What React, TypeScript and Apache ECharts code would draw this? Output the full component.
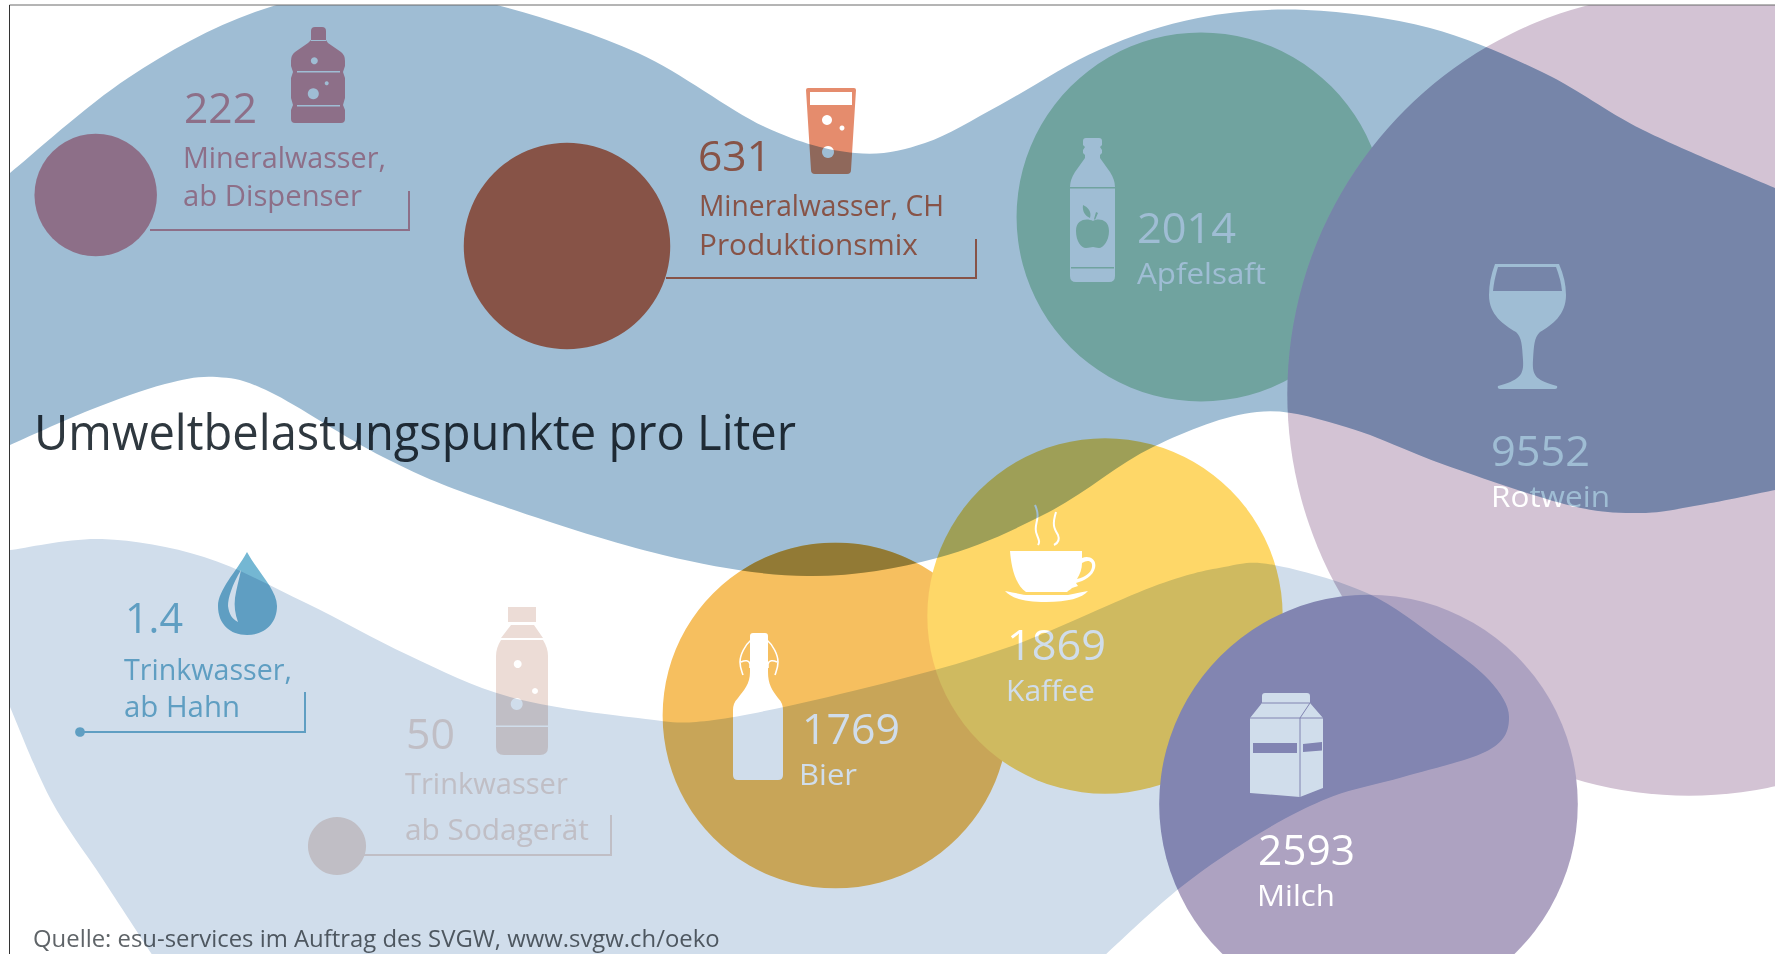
import React, { useEffect, useRef } from "react";
import * as echarts from "echarts";

// ---------- data ----------
const names = ["Apfelsaft", "Rotwein", "Bier", "Kaffee", "Milch", "Mineralwasser, ab Dispenser", "Mineralwasser, CH Produktionsmix", "Trinkwasser ab Sodagerät", "Trinkwasser, ab Hahn"];
const values = [2014, 9552, 1769, 1869, 2593, 222, 631, 50, 1.4];
const centerX = [1201, 1689, 835.5, 1105, 1368.5, 95.7, 567, 337, 80];
const centerY = [217, 394, 715.5, 616, 804, 195, 246, 846, 732];
const bubbleColors = ["#b4dcc0", "#d3c3d4", "#f6bf5f", "#fed768", "#ada2c1", "#e396a4", "#d97055", "#ecdcd6", "#74b7d3"];
const AREA_SCALE = 4.11;

const TITLE = "Umweltbelastungspunkte pro Liter";
const SOURCE = "Quelle: esu-services im Auftrag des SVGW, www.svgw.ch/oeko";

// ---------- background shapes ----------
const blueUpper = [[10,173],[128,78],[255,12],[390,-14],[497,5],[638,53],[765,127],[855,153],[925,143],[1000,105],[1099,50],[1198,18],[1306,10],[1430,28],[1544,73],[1643,130],[1775,188]];
const blueLower = [[1775,490],[1700,505],[1640,513],[1568,505],[1445,465],[1346,427],[1257,412],[1153,447],[1049,512],[937,558],[808,576],[663,555],[485,500],[383,457],[270,392],[217,377],[165,384],[90,410],[10,445]];
const lightUpper = [[10,550],[102,539],[204,557],[306,603],[408,655],[510,697],[638,718],[714,720],[865,688],[1009,647],[1152,587],[1224,567],[1274,565],[1367,593],[1439,640],[1489,680],[1509,717],[1489,750],[1403,777],[1331,797],[1260,833],[1181,887],[1104,956]];
const lightLeft = [[153,956],[102,878],[51,800],[10,707]];

function controls(pts: number[][], i: number) {
  const p0 = pts[Math.max(0, i - 1)], p1 = pts[i], p2 = pts[i + 1], p3 = pts[Math.min(pts.length - 1, i + 2)];
  return [p1, [p1[0] + (p2[0] - p0[0]) / 6, p1[1] + (p2[1] - p0[1]) / 6], [p2[0] - (p3[0] - p1[0]) / 6, p2[1] - (p3[1] - p1[1]) / 6], p2];
}
function smooth(pts: number[][], move: boolean) {
  let d = (move ? "M" : "L") + pts[0][0] + " " + pts[0][1];
  for (let i = 0; i < pts.length - 1; i++) {
    const [, c1, c2, p2] = controls(pts, i);
    d += `C${c1[0].toFixed(1)} ${c1[1].toFixed(1)} ${c2[0].toFixed(1)} ${c2[1].toFixed(1)} ${p2[0]} ${p2[1]}`;
  }
  return d;
}
function sample(pts: number[][]) {
  const out: number[][] = [];
  for (let i = 0; i < pts.length - 1; i++) {
    const [a, b, c, e] = controls(pts, i);
    for (let k = 0; k < 24; k++) {
      const t = k / 24, u = 1 - t;
      out.push([
        u*u*u*a[0] + 3*u*u*t*b[0] + 3*u*t*t*c[0] + t*t*t*e[0],
        u*u*u*a[1] + 3*u*u*t*b[1] + 3*u*t*t*c[1] + t*t*t*e[1],
      ]);
    }
  }
  out.push(pts[pts.length - 1]);
  return out;
}
// part of a background shape that lies inside a bubble
function clipToCircle(poly: number[][], cx: number, cy: number, r: number) {
  let res = poly;
  const n = 180;
  for (let i = 0; i < n; i++) {
    const a1 = (i / n) * 2 * Math.PI, a2 = ((i + 1) / n) * 2 * Math.PI;
    const ax = cx + r * Math.cos(a1), ay = cy + r * Math.sin(a1);
    const bx = cx + r * Math.cos(a2), by = cy + r * Math.sin(a2);
    const side = (p: number[]) => (bx - ax) * (p[1] - ay) - (by - ay) * (p[0] - ax);
    const next: number[][] = [];
    for (let j = 0; j < res.length; j++) {
      const p = res[j], q = res[(j + 1) % res.length];
      const sp = side(p), sq = side(q);
      if (sp >= 0) next.push(p);
      if ((sp >= 0) !== (sq >= 0)) {
        const t = sp / (sp - sq);
        next.push([p[0] + t * (q[0] - p[0]), p[1] + t * (q[1] - p[1])]);
      }
    }
    res = next;
    if (!res.length) break;
  }
  return res;
}

const bluePath = smooth(blueUpper, true) + smooth(blueLower, false) + "Z";
const lightPath = smooth(lightUpper, true) + smooth(lightLeft, false) + "Z";
const bluePoly = sample(blueUpper).concat(sample(blueLower));
const lightPoly = sample(lightUpper).concat(sample(lightLeft));

const BLUE = "#9fbdd4";
const LIGHT = "#d0ddeb";
const TINT_WINE = "#e5ebf5";
const TINT_MILK = "#eaf1fe";
const TINT_BEER = "#f4dda9";
const FONT = '"Open Sans", sans-serif';

// text: content, left x, baseline y, target width, font size, colour
type T = [string, number, number, number, number, string];
const texts: T[] = [
  [String(values[5]), 184, 123, 73, 42, "#e396a4"],
  ["Mineralwasser,", 183, 168, 203, 30, "#e396a4"],
  ["ab Dispenser", 183, 206, 179, 30, "#e396a4"],
  [String(values[6]), 698, 171, 73, 42, "#d97055"],
  ["Mineralwasser, CH", 699, 216, 245, 30, "#d97055"],
  ["Produktionsmix", 699, 255, 219, 30, "#d97055"],
  [String(values[0]), 1137, 243, 99, 42, "#ffffff"],
  ["Apfelsaft", 1137, 284, 129, 30, "#ffffff"],
  [String(values[1]), 1491, 466, 99, 42, "#ffffff"],
  ["Rotwein", 1491, 507, 119, 30, "#ffffff"],
  [String(values[3]), 1007, 660, 99, 42, "#ffffff"],
  ["Kaffee", 1006, 701, 89, 30, "#ffffff"],
  [String(values[2]), 802, 744, 98, 42, "#ffffff"],
  ["Bier", 799, 785, 58, 30, "#ffffff"],
  [String(values[4]), 1258, 865, 97, 42, "#ffffff"],
  ["Milch", 1257, 906, 78, 30, "#ffffff"],
  [String(values[8]), 125, 633, 58, 42, "#74b7d3"],
  ["Trinkwasser,", 124, 680, 168, 30, "#74b7d3"],
  ["ab Hahn", 124, 717, 116, 30, "#74b7d3"],
  [String(values[7]), 406, 749, 49, 42, "#ecdcd6"],
  ["Trinkwasser", 405, 794, 163, 30, "#ecdcd6"],
  ["ab Sodagerät", 405, 840, 184, 30, "#ecdcd6"],
  [TITLE, 34, 450, 762, 49, "#2f383f"],
  [SOURCE, 33, 947, 687, 23, "#5f6468"],
];

// leader lines
const leaders: [number[][], string][] = [
  [[[150, 230], [409, 230], [409, 191]], "#e396a4"],
  [[[666, 278], [976, 278], [976, 239]], "#d97055"],
  [[[80, 732], [305, 732], [305, 692]], "#74b7d3"],
  [[[360, 855], [611, 855], [611, 815]], "#ecdcd6"],
];

// icons: [name, path, fill, stroke, stroke width]
const icons: [string, string, string, string, number][] = [
  ["b222", "M311 31Q311 27 315 27H322Q326 27 326 31V40L328 43L341 52Q345 55 345 61V66L343 72L345 78V98L343 105L345 110V119Q345 123 341 123H295Q291 123 291 119V110L293 105L291 98V78L293 72L291 66V61Q291 55 295 52L308 43L311 40Z", "#e396a4", "none", 0],
  ["g631", "M806 90Q806 88 808 88H854Q856 88 856 90L851 170Q851 174 847 174H815Q811 174 811 170Z", "#e58c6d", "none", 0],
  ["b2014", "M1083 141Q1083 138 1086 138H1099Q1102 138 1102 141V145L1100 147L1102 150V153L1100 155V158L1110 172Q1115 180 1115 187V276Q1115 282 1109 282H1076Q1070 282 1070 276V187Q1070 180 1075 172L1085 158V155L1083 153V150L1085 147L1083 145Z", "#ffffff", "none", 0],
  ["apple", "M1093 221C1098 218 1109 219 1109 231C1109 241 1103 248 1099 248C1096 248 1095 247 1093 247C1091 247 1089 248 1086 248C1081 248 1076 241 1076 231C1076 219 1087 218 1093 221ZM1090 218C1085 216 1082 211 1083 205C1088 207 1092 212 1090 218ZM1094 219L1096 212L1098 213L1095 220Z", "#b4dcc0", "none", 0],
  ["wine", "M1495 264H1559Q1566 280 1566 295C1566 315 1552 325 1540 332C1534 338 1534 345 1533 360C1532 375 1535 380 1557 386Q1558 389 1555 389H1500Q1497 389 1498 386C1520 380 1524 375 1523 360C1522 345 1522 338 1516 332C1504 325 1489 315 1489 295Q1489 280 1495 264Z", "#ffffff", "none", 0],
  ["wineIn", "M1498 267H1556Q1561 280 1562 291H1493Q1494 280 1498 267Z", "#bdb3cb", "none", 0],
  ["cup", "M1010 551H1082V558C1090 555 1097 560 1095 568C1093 576 1084 581 1076 583L1078 586L1072 588C1070 590 1069 590 1067 592H1026C1015 585 1011 565 1010 551Z", "#ffffff", "none", 0],
  ["cupHole", "M1082 563C1088 559 1093 561 1092 567C1091 573 1085 577 1077 579C1080 574 1082 569 1082 563Z", "#fed768", "none", 0],
  ["saucer", "M1005 591C1015 593 1020 594 1026 595H1068C1075 594 1080 592 1088 591C1082 598 1068 602 1046 602C1024 602 1011 598 1005 591Z", "#ffffff", "none", 0],
  ["steam1", "M1035 505C1042 520 1032 525 1037 535C1039 540 1040 542 1038 545", "none", "#ffffff", 2],
  ["steam2", "M1056 512C1052 525 1054 528 1058 535C1060 540 1058 543 1054 545", "none", "#ffffff", 2],
  ["bier", "M750 636Q750 633 753 633H765Q768 633 768 636V672C768 684 772 690 778 698Q783 703 783 710V775Q783 780 778 780H738Q733 780 733 775V710Q733 703 738 698C744 690 750 684 750 672Z", "#ffffff", "none", 0],
  ["wire", "M751 640C745 645 740 655 740 662C740 668 742 672 743 675M767 640C773 645 778 655 778 662C778 668 776 672 775 675M741 662C745 660 749 660 750 664V668M777 662C773 660 769 660 768 664V668", "none", "#ffffff", 1.6],
  ["milk", "M1262 696Q1262 693 1265 693H1307Q1310 693 1310 696V703L1323 718V788L1300 797L1250 793V718L1262 703Z", "#ffffff", "none", 0],
  ["band", "M1253 743H1297V753H1253ZM1303 744L1322 742V750.5L1303 752Z", "#9e98c1", "none", 0],
  ["fold", "M1300 797V718L1310 703M1250 718H1323M1262 703H1310", "none", "#9e98c1", 1],
  ["drop", "M247 552C258 572 277 590 277 606C277 624 264 635 247 635C230 635 218 624 218 606C218 590 236 572 247 552Z", "#74b7d3", "none", 0],
  ["dropIn", "M241 570C232 585 228 598 228 606C229 614 232 619 238 622C235 614 234 606 235 598C236 590 239 580 241 570Z", "#ffffff", "none", 0],
  ["b50", "M508 607H536V622H508ZM511 625H534L543 638H501ZM501 640H543Q548 648 548 656V747Q548 755 540 755H504Q496 755 496 747V656Q496 648 501 640Z", "#ecdcd6", "none", 0],
];

// small white holes inside icons
const holes: number[][] = [
  [314.3, 60.7, 3.5], [313.3, 93.7, 5.5], [326.7, 83.3, 2],
  [827, 120, 5], [842, 128, 2.5], [828, 152, 6],
  [517.7, 664, 4], [535, 691, 3], [516.7, 704, 6],
];
// thin stripes and windows: x, y, w, h, colour
const stripes: (number | string)[][] = [
  [297, 71, 43, 1.5, "#ffffff"], [297, 105, 43, 1.5, "#ffffff"], [311, 40, 15, 1, "#ffffff"],
  [810, 92, 42, 13, "#ffffff"],
  [1070, 187, 45, 1.5, "#b4dcc0"], [1071, 267, 43, 1.5, "#b4dcc0"],
  [496, 725.5, 52, 1.5, "#ffffff"],
];

export default function App() {
  const ref = useRef<HTMLDivElement>(null);
  useEffect(() => {
    const chart = echarts.init(ref.current!, undefined, { renderer: "svg" });
    const ctx = document.createElement("canvas").getContext("2d")!;

    const shape = (name: string, d: string) => {
      echarts.graphic.registerShape(name, echarts.graphic.extendPath(d as any, {} as any) as any);
    };
    shape("blobBlue", bluePath);
    shape("blobLight", lightPath);
    icons.forEach((ic) => shape("ic_" + ic[0], ic[1]));

    const radius = (i: number) => AREA_SCALE * Math.sqrt(values[i]);
    const elements: any[] = [];
    // overlap tints, only on the bubble colours and below the icons
    const tint = (poly: number[][], i: number, color: string) => {
      const pts = clipToCircle(poly, centerX[i], centerY[i], radius(i));
      if (pts.length > 2) elements.push({ type: "polygon", z: 3, shape: { points: pts }, style: { fill: color } });
    };
    tint(bluePoly, 1, TINT_WINE);
    tint(lightPoly, 4, TINT_MILK);
    tint(bluePoly, 2, TINT_BEER);

    leaders.forEach(([pts, color]) =>
      elements.push({ type: "polyline", z: 5, shape: { points: pts }, style: { stroke: color, lineWidth: 2, fill: "none" } })
    );
    icons.forEach((ic) =>
      elements.push({ type: "ic_" + ic[0], x: 0, y: 0, z: 6, style: { fill: ic[2], stroke: ic[3], lineWidth: ic[4] } })
    );
    stripes.forEach((s) =>
      elements.push({ type: "rect", z: 7, shape: { x: s[0], y: s[1], width: s[2], height: s[3] }, style: { fill: s[4] } })
    );
    holes.forEach((h) =>
      elements.push({ type: "circle", z: 7, shape: { cx: h[0], cy: h[1], r: h[2] }, style: { fill: "#ffffff" } })
    );
    texts.forEach(([t, x, base, w, size, color]) => {
      const font = `${size}px ${FONT}`;
      ctx.font = font;
      const natural = ctx.measureText(t).width;
      elements.push({
        type: "text",
        z: 8,
        x,
        y: base - 0.388 * size,
        scaleX: w / natural,
        style: { text: t, fill: color, font, fontFamily: FONT, fontSize: size, align: "left", verticalAlign: "middle" },
      });
    });
    elements.push({ type: "blobLight", x: 0, y: 0, z: 20, style: { fill: LIGHT } });
    elements.push({ type: "blobBlue", x: 0, y: 0, z: 21, style: { fill: BLUE } });
    // page outside the frame and the frame itself
    elements.push({ type: "rect", z: 30, shape: { x: 0, y: 0, width: 1775, height: 5 }, style: { fill: "#ffffff" } });
    elements.push({ type: "rect", z: 30, shape: { x: 0, y: 0, width: 9, height: 954 }, style: { fill: "#ffffff" } });
    elements.push({ type: "line", z: 31, shape: { x1: 9.5, y1: 5, x2: 1775, y2: 5 }, style: { stroke: "#6a6a6a", lineWidth: 1 } });
    elements.push({ type: "line", z: 31, shape: { x1: 9.5, y1: 5, x2: 9.5, y2: 954 }, style: { stroke: "#333333", lineWidth: 1 } });

    chart.setOption({
      animation: false,
      backgroundColor: "#ffffff",
      grid: { left: 0, right: 0, top: 0, bottom: 0 },
      xAxis: { type: "value", min: 0, max: 1775, show: false },
      yAxis: { type: "value", min: 0, max: 954, inverse: true, show: false },
      series: [
        {
          type: "scatter",
          z: 2,
          clip: false,
          silent: true,
          symbol: "circle",
          symbolSize: (d: number[]) => 2 * AREA_SCALE * Math.sqrt(d[2]),
          data: values.map((v, i) => ({
            name: names[i],
            value: [centerX[i], centerY[i], v],
            itemStyle: { color: bubbleColors[i], opacity: 1 },
          })),
        },
      ],
      graphic: { elements },
    });

    const multiply = [BLUE, LIGHT, TINT_WINE, TINT_MILK, TINT_BEER];
    chart.getDom().querySelectorAll("path").forEach((p) => {
      const f = (p.getAttribute("fill") || "").toLowerCase();
      if (multiply.includes(f)) (p as any).style.mixBlendMode = "multiply";
    });
    return () => chart.dispose();
  }, []);
  return <div ref={ref} style={{ position: "fixed", left: 0, top: 0, width: 1775, height: 954 }} />;
}
